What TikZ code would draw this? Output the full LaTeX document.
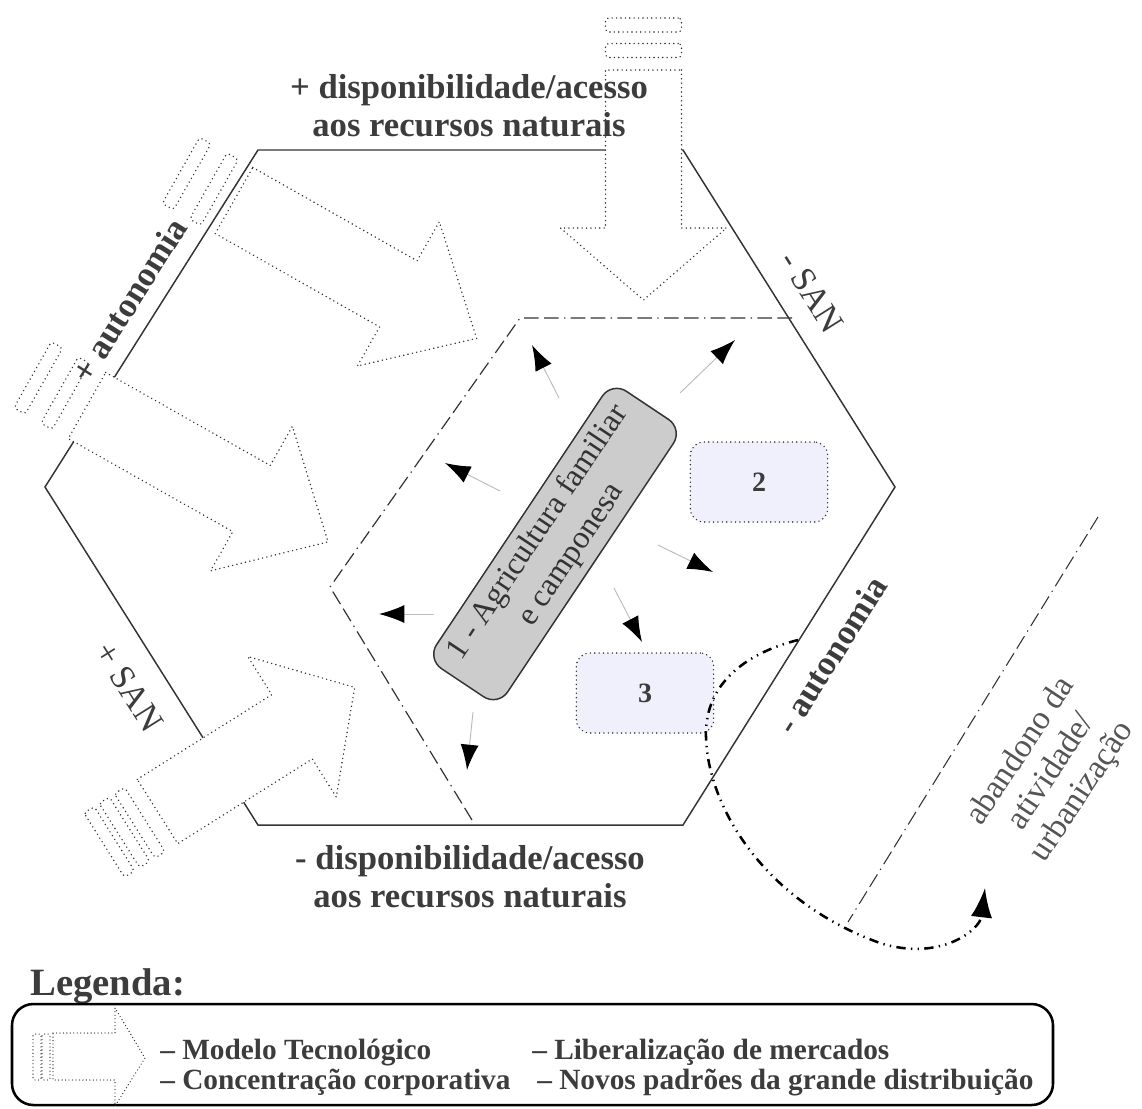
\documentclass[tikz,border=0pt]{standalone}
\usepackage{fontspec}
\setmainfont{Liberation Serif}
\usetikzlibrary{arrows.meta}
\definecolor{ink}{HTML}{333333}
\definecolor{txt}{HTML}{3C3C3C}
\definecolor{soft}{HTML}{555555}
\definecolor{boxgray}{HTML}{CCCCCC}
\definecolor{lav}{HTML}{F0F0FC}
\definecolor{thin}{HTML}{BBBBBB}

\tikzset{
  dotline/.style={draw=ink,line width=1.2pt,line cap=round,line join=round,
    dash pattern=on 0pt off 3.3pt},
  % block arrow with a striped tail: shaft length, head length, stripe thickness, stripe centres
  pics/blockarrow/.style n args={4}{code={
    \draw[dotline,fill=white] (0,-38) -- (#1,-38) -- (#1,-83) -- ({#1+#2},0)
      -- (#1,83) -- (#1,38) -- (0,38) -- cycle;
    \foreach \c in {#4}
      \draw[dotline,fill=white,rounded corners=2.5pt]
        ({\c-#3/2},-38) rectangle ({\c+#3/2},38);
  }}
}

\begin{document}
\begin{tikzpicture}[x=0.75pt,y=-0.75pt,
  hexedge/.style={draw=ink,line width=1.1pt,line join=miter},
  dashdot/.style={draw=ink,line width=0.9pt,
    dash pattern=on 11pt off 4pt on 11pt off 4pt on 1pt off 4pt},
  exitarrow/.style={draw=black,line width=1.9pt,
    dash pattern=on 7pt off 4pt on 1pt off 4pt on 1pt off 4pt,
    -{Latex[length=22pt,width=16pt]}},
  spread/.style={draw=thin,line width=0.7pt,
    -{Latex[length=19pt,width=13.5pt,color=black]}},
  edgelbl/.style={text=txt,font=\fontsize{26}{28.5}\selectfont\bfseries,align=center,inner sep=0pt},
  sanlbl/.style={text=txt,font=\fontsize{26}{28.5}\selectfont,inner sep=0pt},
  agri/.style={draw=ink,fill=boxgray,line width=1.1pt,rounded corners=13pt,
    minimum width=250pt,minimum height=64pt,align=center,text=ink,
    font=\fontsize{24}{30}\selectfont},
  subbox/.style={dotline,fill=lav,rounded corners=10pt,minimum width=103pt,
    minimum height=60pt,text=txt,font=\fontsize{21}{24}\selectfont\bfseries},
  legtxt/.style={text=txt,font=\fontsize{22}{24}\selectfont\bfseries,anchor=base west,inner sep=0pt},
  legdots/.style={dotline,line width=1pt,dash pattern=on 0pt off 2.6pt}
]
\useasboundingbox (0,0) rectangle (1142,1108);

% outer hexagon
\draw[hexedge] (258,150) -- (683,150) -- (895,487) -- (683,825) -- (258,825) -- (45,487) -- cycle;

% inner dash-dot boundary
\draw[dashdot] (792,318) -- (520,318) -- (330,587) -- (472,820);

% block arrows pressing on the hexagon
\pic[rotate=-90] at (643.5,70) {blockarrow={158}{72}{14}{-19.5,-45}};
\pic[rotate=-29.6] at (234,200.5) {blockarrow={189}{90}{13}{-23,-54.5}};
\pic[rotate=-29.5] at (87,405.5) {blockarrow={189}{88}{13}{-25,-56}};
\pic[rotate=32.2] at (157.5,811.5) {blockarrow={159}{74}{12}{-21,-39,-57}};

% edge labels
\node[edgelbl] (topl) at (469,106) {+ disponibilidade/acesso\\aos recursos naturais};
\node[edgelbl] (botl) at (470,877) {- disponibilidade/acesso\\aos recursos naturais};
\node[edgelbl,rotate=57.7] (autp) at (129,300) {+ autonomia};
\node[edgelbl,rotate=57.7] (autm) at (831,655) {- autonomia};
\node[sanlbl,rotate=-57.7] (sanm) at (812,292) {- SAN};
\node[sanlbl,rotate=-57.7] (sanp) at (129,687) {+ SAN};

% central actor and the other groups
\node[agri,rotate=56.3] (agr) at (555,544) {1 - Agricultura familiar\\e camponesa};
\node[subbox] (b2) at (759,482) {2};
\node[subbox] (b3) at (645,693) {3};

% spreading arrows around the central actor
\coordinate (o1) at (559,398); \coordinate (p1) at (532,345);
\coordinate (o2) at (680,393); \coordinate (p2) at (735,340);
\coordinate (o3) at (500,491); \coordinate (p3) at (445,463);
\coordinate (o4) at (658,545); \coordinate (p4) at (713,572);
\coordinate (o5) at (434,614); \coordinate (p5) at (379,614);
\coordinate (o6) at (614,588); \coordinate (p6) at (642,642);
\coordinate (o7) at (473,712); \coordinate (p7) at (467,770);
\foreach \i in {1,...,7} \draw[spread] (o\i) -- (p\i);

% exit path
\coordinate (xa) at (798,640);
\coordinate (xb) at (985,888);
\draw[exitarrow] (xa) .. controls (750,652) and (708,680) .. (706,730)
  .. controls (704,800) and (760,900) .. (880,943)
  .. controls (940,962) and (980,930) .. (xb);

\coordinate (r1) at (1098,517);
\coordinate (r2) at (848,922);
\draw[dashdot,line width=0.8pt] (r1) -- (r2);
\node[text=soft,font=\fontsize{25}{27.5}\selectfont,align=center,rotate=56.5,inner sep=0pt]
  (aband) at (1052,772) {abandono da\\atividade/\\urbanização};

% legend
\node[text=txt,font=\fontsize{29}{30}\selectfont\bfseries,anchor=base west,inner sep=0pt]
  (legt) at (30,995) {Legenda:};
\draw[draw=black,line width=1.9pt,rounded corners=16pt] (12,1004) rectangle (1053,1105);
\draw[legdots]
  (53,1033) -- (115,1033) -- (115,1008) -- (145,1058) -- (115,1106) -- (115,1080) -- (53,1080) -- cycle;
\foreach \c in {33,42}
  \draw[legdots,rounded corners=1.5pt] (\c,1034) rectangle (\c+8,1080);
\node[legtxt] (l1) at (160,1059) {– Modelo Tecnológico};
\node[legtxt] (l2) at (160,1089) {– Concentração corporativa};
\node[legtxt] (l3) at (532,1059) {– Liberalização de mercados};
\node[legtxt] (l4) at (537,1089) {– Novos padrões da grande distribuição};
\end{tikzpicture}
\end{document}
